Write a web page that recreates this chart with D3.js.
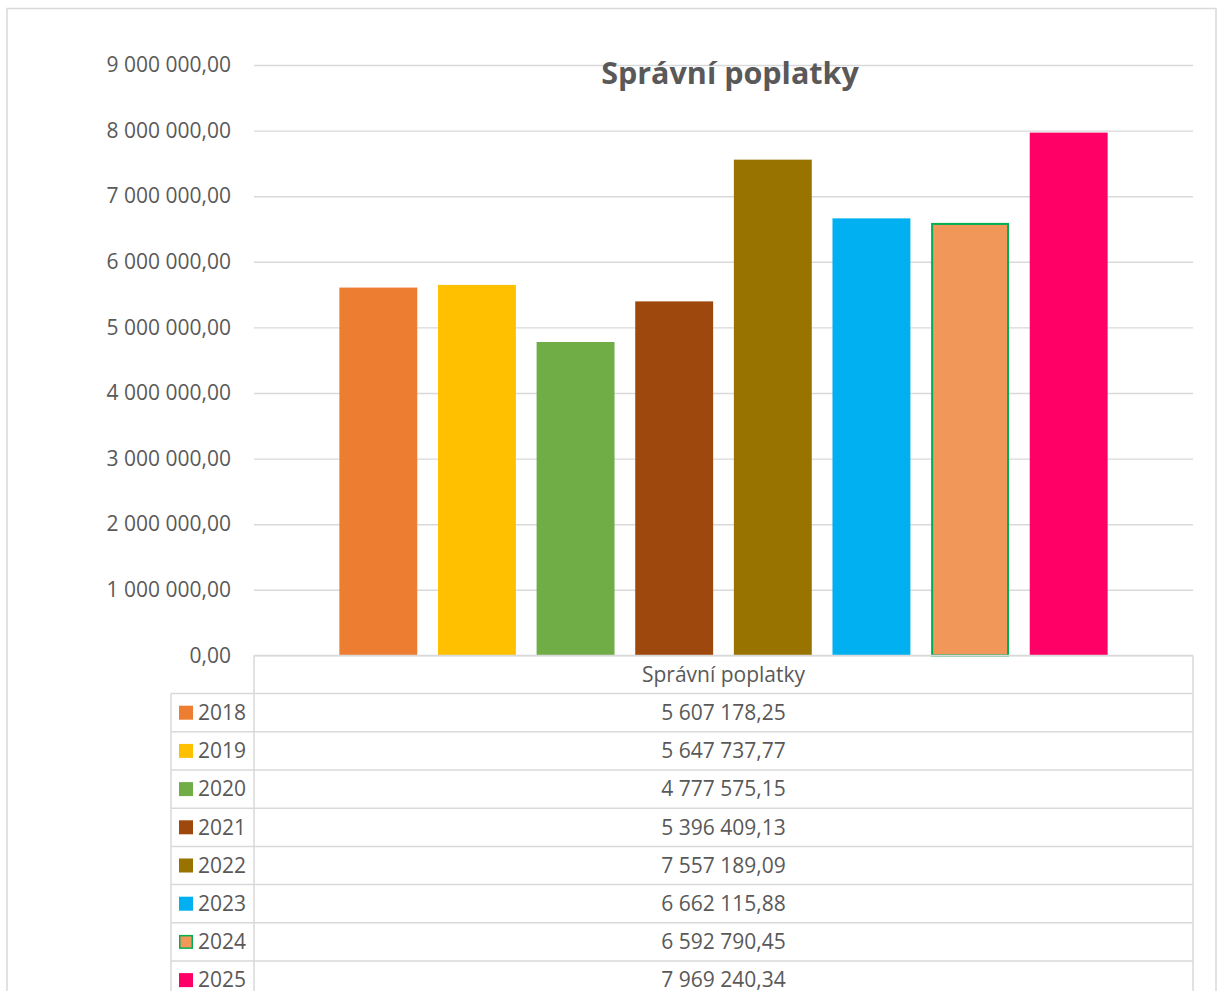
<!DOCTYPE html>
<html>
<head>
<meta charset="utf-8">
<script src="https://cdn.jsdelivr.net/npm/d3@7"></script>
<style>
  body { margin: 0; background: #fff; }
  text { font-family: "Open Sans", "Noto Sans", sans-serif; fill: #595959; }
</style>
</head>
<body>
<script>
// data
var seriesName = "Správní poplatky";
var years = ["2018", "2019", "2020", "2021", "2022", "2023", "2024", "2025"];
var values = [5607178.25, 5647737.77, 4777575.15, 5396409.13, 7557189.09, 6662115.88, 6592790.45, 7969240.34];
var yTicks = [0, 1000000, 2000000, 3000000, 4000000, 5000000, 6000000, 7000000, 8000000, 9000000];

var colors = ["#ED7D31", "#FFC000", "#70AD47", "#9E480E", "#997300", "#00B0F0", "#F1975A", "#FF0066"];
var strokes = [null, null, null, null, null, null, "#00B050", null];

var data = years.map(function(d, i) { return {year: d, value: values[i], color: colors[i], stroke: strokes[i]}; });

var W = 1217, H = 991;
var plot = {left: 254, right: 1193, top: 65, bottom: 655.4};
var grid = "#d9d9d9";
var fs = "21px";

var czLocale = d3.formatLocale({decimal: ",", thousands: " ", grouping: [3], currency: ["", ""]});
var fmt = czLocale.format(",.2f");

var svg = d3.select("body").append("svg")
    .attr("width", W)
    .attr("height", H);

svg.append("rect").attr("width", W).attr("height", H).attr("fill", "#fff");

// outer chart border
svg.append("rect")
    .attr("x", 7).attr("y", 8.5)
    .attr("width", 1209).attr("height", 1010)
    .attr("fill", "none")
    .attr("stroke", grid)
    .attr("stroke-width", 1.5);

var y = d3.scaleLinear()
    .domain([0, 9000000])
    .range([plot.bottom, plot.top]);

var x = d3.scaleBand()
    .domain(years)
    .range([329, 1118])
    .paddingInner(0.21)
    .paddingOuter(0.105);

var yAxis = d3.axisLeft(y)
    .tickValues(yTicks)
    .tickFormat(fmt)
    .tickSize(-(plot.right - plot.left))
    .tickPadding(23);

var gy = svg.append("g")
    .attr("transform", "translate(" + plot.left + ",0)")
    .call(yAxis);
gy.select(".domain").remove();
gy.selectAll(".tick line").attr("stroke", grid).attr("stroke-width", 1.4);
gy.selectAll(".tick text")
    .attr("fill", "#595959")
    .style("font-size", fs)
    .style("font-family", "'Open Sans', sans-serif");

// title
svg.append("text")
    .attr("x", 730)
    .attr("y", 84)
    .attr("text-anchor", "middle")
    .style("font-size", "30.5px")
    .style("font-weight", "bold")
    .text(seriesName);

// bars
svg.selectAll(".bar")
    .data(data)
  .enter().append("rect")
    .attr("class", "bar")
    .attr("x", function(d) { return x(d.year) + (d.stroke ? 1 : 0); })
    .attr("y", function(d) { return y(d.value) + (d.stroke ? 1 : 0); })
    .attr("width", function(d) { return x.bandwidth() - (d.stroke ? 2 : 0); })
    .attr("height", function(d) { return y(0) - y(d.value) - (d.stroke ? 1 : 0); })
    .attr("fill", function(d) { return d.color; })
    .attr("stroke", function(d) { return d.stroke || "none"; })
    .attr("stroke-width", 2);

// data table
var rowH = 38.2;
var rows = d3.scaleBand()
    .domain(years)
    .range([plot.bottom + rowH, plot.bottom + rowH * (years.length + 1)]);

var table = svg.append("g").attr("class", "table");
var tLeft = 171;

// header row
table.append("line")
    .attr("x1", plot.left).attr("x2", plot.right)
    .attr("y1", plot.bottom).attr("y2", plot.bottom);
table.append("text")
    .attr("x", (plot.left + plot.right) / 2)
    .attr("y", plot.bottom + rowH / 2)
    .attr("dy", "0.35em")
    .attr("text-anchor", "middle")
    .style("font-size", fs)
    .text(seriesName);

// horizontal lines
table.selectAll(".hline")
    .data(years.concat(["end"]))
  .enter().append("line")
    .attr("class", "hline")
    .attr("x1", tLeft).attr("x2", plot.right)
    .attr("y1", function(d, i) { return rows.range()[0] + i * rows.step(); })
    .attr("y2", function(d, i) { return rows.range()[0] + i * rows.step(); });

// vertical lines
table.append("line").attr("x1", tLeft).attr("x2", tLeft)
    .attr("y1", rows.range()[0]).attr("y2", H + 20);
table.append("line").attr("x1", plot.left).attr("x2", plot.left)
    .attr("y1", plot.bottom).attr("y2", H + 20);
table.append("line").attr("x1", plot.right).attr("x2", plot.right)
    .attr("y1", plot.bottom).attr("y2", H + 20);

table.selectAll("line")
    .attr("stroke", grid)
    .attr("stroke-width", 1.5);

var row = table.selectAll(".row")
    .data(data)
  .enter().append("g")
    .attr("class", "row")
    .attr("transform", function(d) { return "translate(0," + (rows(d.year) + rows.bandwidth() / 2) + ")"; });

row.append("rect")
    .attr("x", function(d) { return 179 + (d.stroke ? 0.75 : 0); })
    .attr("y", function(d) { return -7 + (d.stroke ? 0.75 : 0); })
    .attr("width", function(d) { return 14 - (d.stroke ? 1.5 : 0); })
    .attr("height", function(d) { return 14 - (d.stroke ? 1.5 : 0); })
    .attr("fill", function(d) { return d.color; })
    .attr("stroke", function(d) { return d.stroke || "none"; })
    .attr("stroke-width", 1.5);

row.append("text")
    .attr("x", 198)
    .attr("dy", "0.35em")
    .style("font-size", fs)
    .text(function(d) { return d.year; });

row.append("text")
    .attr("x", (plot.left + plot.right) / 2)
    .attr("dy", "0.35em")
    .attr("text-anchor", "middle")
    .style("font-size", fs)
    .text(function(d) { return fmt(d.value); });
</script>
</body>
</html>
